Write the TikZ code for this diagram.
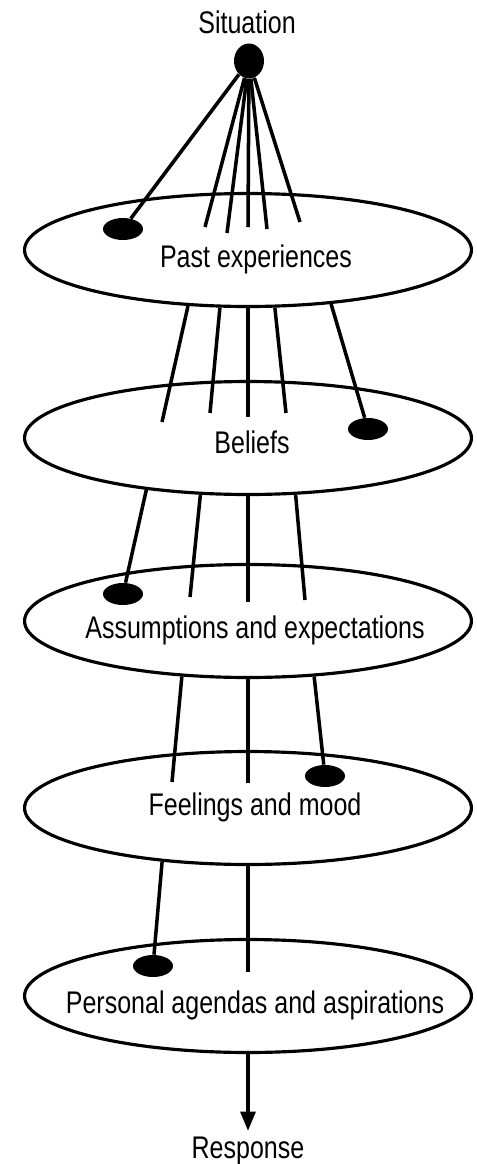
\documentclass[tikz,border=0pt]{standalone}
\usepackage{fontspec}
\setmainfont[FakeStretch=0.8]{Liberation Sans}
\usetikzlibrary{arrows.meta,shapes.geometric}

\begin{document}
\begin{tikzpicture}[x=0.02cm,y=-0.02cm,
  layer/.style={draw,ellipse,line width=1.8pt,minimum width=8.94cm,minimum height=2.26cm,inner sep=0pt},
  blob/.style={fill,ellipse,minimum width=0.8cm,minimum height=0.44cm,inner sep=0pt},
  hub/.style={fill,ellipse,minimum width=0.6cm,minimum height=0.7cm,inner sep=0pt},
  lbl/.style={font=\fontsize{17.8}{20}\selectfont,inner sep=3pt,anchor=base},
  link/.style={line width=2pt}]
\useasboundingbox (0,0) rectangle (477,1164);

% situation and the five layers
\node[hub] (sit) at (249,61) {};
\node[lbl] (sittxt) at (247,33) {Situation};
\node[layer] (past) at (248,250) {};
\node[lbl] (pasttxt) at (256,267) {Past experiences};
\node[layer] (beliefs) at (248,438) {};
\node[lbl] (belieftxt) at (252,453) {Beliefs};
\node[layer] (assume) at (248,621) {};
\node[lbl] (assumetxt) at (255,638) {Assumptions and expectations};
\node[layer] (feel) at (248,808) {};
\node[lbl] (feeltxt) at (255,815) {Feelings and mood};
\node[layer] (agenda) at (248,996) {};
\node[lbl] (agendatxt) at (255,1013) {Personal agendas and aspirations};
\node[lbl] (resp) at (248,1158) {Response};

% situation -> past experiences
\node[blob] (d1) at (123,229) {};
\draw[link] (sit) -- (d1);
\foreach \x/\y [count=\i] in {205/227,227/233,248/227,267/229,300/222}{
  \coordinate (s\i) at (\x,\y);
  \draw[link] (sit) -- (s\i);
}

% past experiences -> beliefs
\node[blob] (d2) at (368,429) {};
\draw[link] (past.-33) -- (d2);
\foreach \a/\x/\y [count=\i] in {-137/162/422,-116/210/413,-90/248/417,-65/286/413}{
  \coordinate (p\i) at (\x,\y);
  \draw[link] (past.\a) -- (p\i);
}

% beliefs -> assumptions
\node[blob] (d3) at (123,594) {};
\draw[link] (beliefs.-153) -- (d3);
\foreach \a/\x/\y [count=\i] in {-130/190/597,-90/248/602,-50/305/600}{
  \coordinate (b\i) at (\x,\y);
  \draw[link] (beliefs.\a) -- (b\i);
}

% assumptions -> feelings
\node[blob] (d4) at (325,776) {};
\draw[link] (assume.-40) -- (d4);
\foreach \a/\x/\y [count=\i] in {-140/172/782,-90/248/783}{
  \coordinate (a\i) at (\x,\y);
  \draw[link] (assume.\a) -- (a\i);
}

% feelings -> agendas
\node[blob] (d5) at (153,966) {};
\draw[link] (feel.-148) -- (d5);
\coordinate (f1) at (248,972);
\draw[link] (feel.-90) -- (f1);

% response
\draw[link,-{Triangle[length=11pt,width=8.5pt]}] (agenda) -- (resp);
\end{tikzpicture}
\end{document}
